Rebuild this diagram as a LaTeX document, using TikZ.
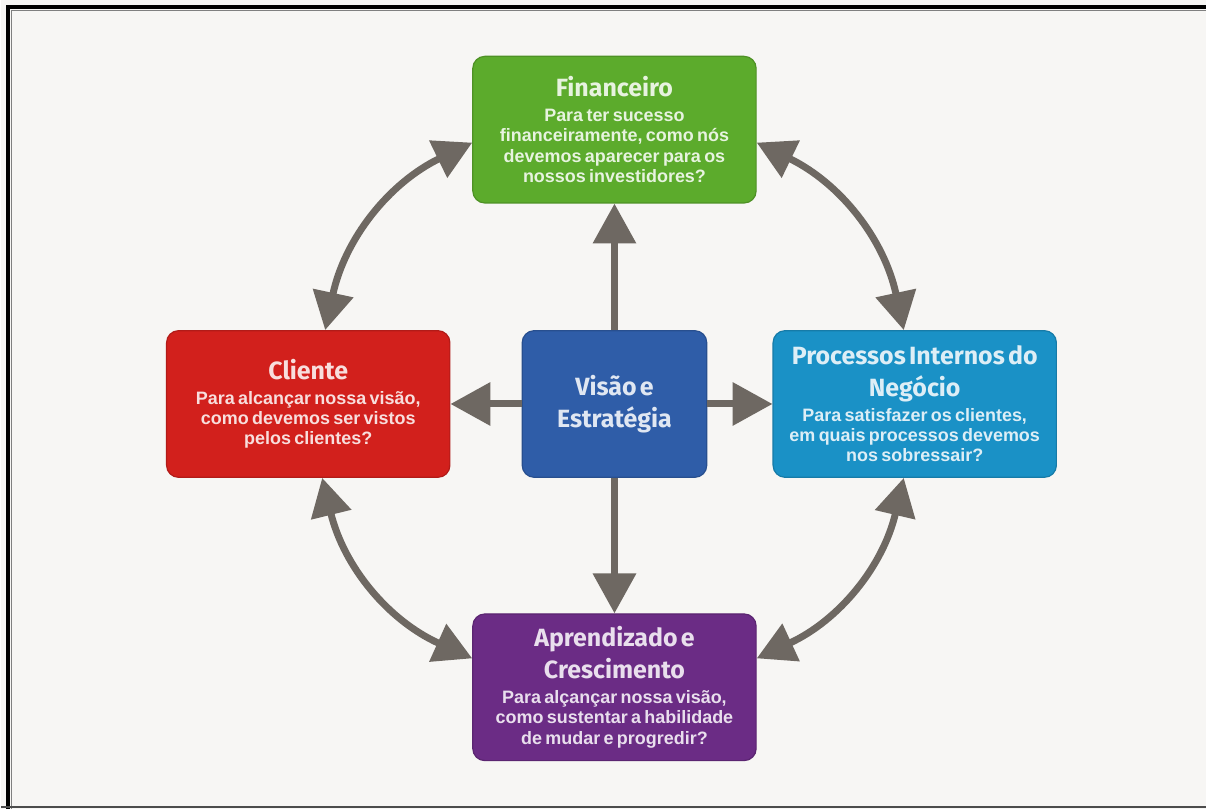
\documentclass[tikz,border=0pt]{standalone}
\usepackage{fontspec}
\setmainfont{Liberation Sans}
\newfontfamily\titlefont{Fira Sans}
\usetikzlibrary{arrows.meta,positioning}

\definecolor{fundo}{HTML}{F7F6F4}
\definecolor{verde}{HTML}{5CAB2C}
\definecolor{vermelho}{HTML}{D2201C}
\definecolor{azul}{HTML}{2F5DA8}
\definecolor{ciano}{HTML}{1A91C6}
\definecolor{roxo}{HTML}{6B2C85}
\definecolor{setacor}{HTML}{6E6862}

\newcommand{\titulo}{\titlefont\bfseries\fontsize{25}{32}\selectfont}
\newcommand{\corpo}{\bfseries\fontsize{18}{20.5}\selectfont}

\begin{document}
\begin{tikzpicture}[x=1pt, y=1pt,
    caixa/.style={draw=#1!85!black, fill=#1, line width=1.2pt, rounded corners=12pt,
        minimum width=284pt, minimum height=147pt, inner sep=0pt,
        text width=278pt, align=center, text=white!85!#1},
    seta/.style={draw=setacor, line width=7pt, -{Triangle[length=40pt,width=42pt]}},
    setadupla/.style={draw=setacor, line width=7pt,
        {Triangle[length=38pt,width=40pt]}-{Triangle[length=38pt,width=40pt]}}]
    % fundo e moldura
    \fill[fundo] (0,0) rectangle (1208,811);
    \draw[black, line width=4pt] (7.5,0) -- (7.5,803.5) -- (1208,803.5);
    \draw[gray, line width=1pt] (10.5,0) -- (10.5,800.5) -- (1208,800.5);
    \draw[gray!60!black, line width=2pt] (0,1.5) -- (1208,1.5);

    % as cinco caixas
    \node[caixa=verde] (fin) at (615,681)
        {{\titulo Financeiro\par}\vspace{4pt}
         {\corpo Para ter sucesso\\financeiramente, como nós\\devemos aparecer para os\\nossos investidores?\par}};
    \node[caixa=vermelho] (cli) at (308,406)
        {{\titulo Cliente\par}\vspace{4pt}
         {\corpo Para alcançar nossa visão,\\como devemos ser vistos\\pelos clientes?\par}};
    \node[caixa=azul, minimum width=185pt, text width=175pt] (vis) at (615,406)
        {{\titulo Visão e\\Estratégia\par}};
    \node[caixa=ciano] (proc) at (916,406)
        {{\titulo Processos Internos do\\Negócio\par}\vspace{4pt}
         {\corpo Para satisfazer os clientes,\\em quais processos devemos\\nos sobressair?\par}};
    \node[caixa=roxo] (apr) at (615,122)
        {{\titulo Aprendizado e\\Crescimento\par}\vspace{4pt}
         {\corpo Para alçançar nossa visão,\\como sustentar a habilidade\\de mudar e progredir?\par}};

    % setas do centro
    \draw[seta] (vis.north) -- (fin.south);
    \draw[seta] (vis.west) -- (cli.east);
    \draw[seta] (vis.east) -- (proc.west);
    \draw[seta] (vis.south) -- (apr.north);

    % setas curvas entre as caixas
    \draw[setadupla] ([yshift=-13pt]fin.west) to[bend right=26] ([xshift=17pt]cli.north);
    \draw[setadupla] ([yshift=-13pt]fin.east) to[bend left=26] ([xshift=-11pt]proc.north);
    \draw[setadupla] ([xshift=14pt]cli.south) to[bend right=26] ([yshift=29pt]apr.west);
    \draw[setadupla] ([xshift=-11pt]proc.south) to[bend left=26] ([yshift=29pt]apr.east);
\end{tikzpicture}
\end{document}
